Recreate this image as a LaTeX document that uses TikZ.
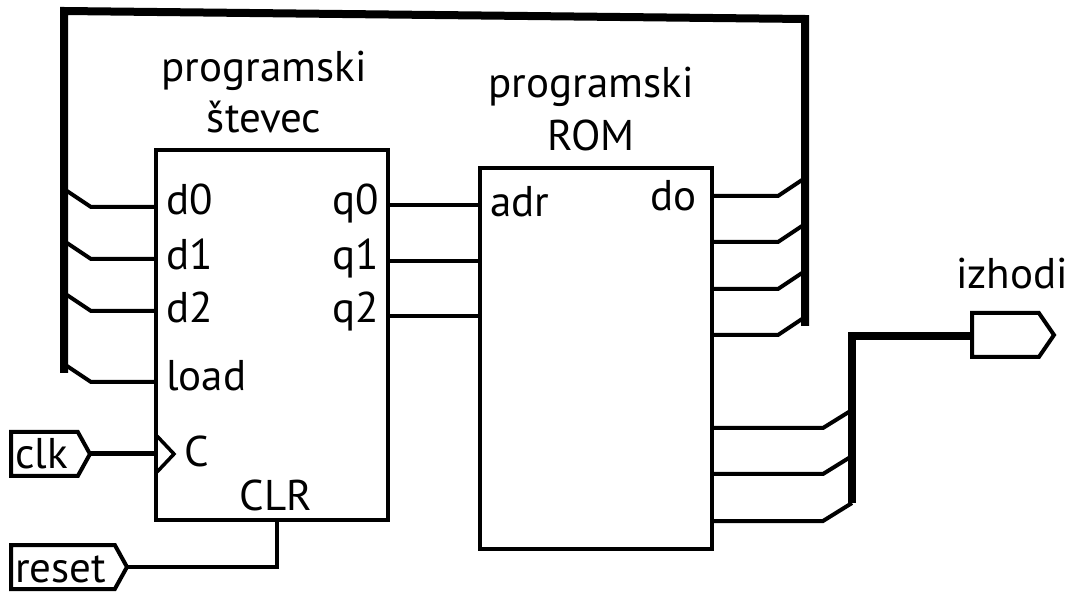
\documentclass[tikz,border=0pt]{standalone}
\usepackage{fontspec}
\setmainfont{PT Sans}
\usetikzlibrary{shapes.symbols}
\tikzset{
  wire/.style={line width=4pt,line join=miter},
  bus/.style={line width=8pt,line join=miter},
  blok/.style={draw,line width=4pt,rectangle,inner sep=0pt,outer sep=0pt},
  pinnode/.style={draw,line width=4pt,shape=signal,signal to=east,inner sep=0pt,outer sep=0pt,signal pointer angle=122,minimum height=44pt},
  oznaka/.style={font=\fontsize{43}{50}\selectfont,inner sep=0pt},
}
\begin{document}
\begin{tikzpicture}[x=1pt,y=-1pt]
\useasboundingbox (0,0) rectangle (1066,593);

% Bloki
\node[blok,minimum width=232pt,minimum height=370pt] (stevec) at (272,335) {};
\node[blok,minimum width=232pt,minimum height=381pt] (rom) at (596,358.5) {};

% Vodila
\coordinate (BusLT) at (64,11);
\coordinate (BusLB) at (64,373);
\coordinate (BusRT) at (805,19);
\coordinate (BusRB) at (805,326);
\coordinate (IzBusT) at (852,336);
\coordinate (IzBusB) at (852,503);
\draw[bus] (BusLB) -- (BusLT) -- (BusRT) -- (BusRB);

% Vhodi stevca
\foreach \y in {207, 259, 311, 382} {
    \draw[wire] (stevec.west |- 0,\y) -- (91,\y) -- (64,\y-18);
}
\node[oznaka,anchor=base west] (labd0) at (166,215) {d0};
\node[oznaka,anchor=base west] (labd1) at (166,270) {d1};
\node[oznaka,anchor=base west] (labd2) at (166,323) {d2};
\node[oznaka,anchor=base west] (labload) at (166,391) {load};

% Povezave stevec - ROM
\foreach \y in {205, 261, 316} {
    \draw[wire] (stevec.east |- 0,\y) -- (rom.west |- 0,\y);
}
\node[oznaka,anchor=base east] (labq0) at (379,215) {q0};
\node[oznaka,anchor=base east] (labq1) at (379,270) {q1};
\node[oznaka,anchor=base east] (labq2) at (379,323) {q2};

% Izhodi ROM
\foreach \y in {196, 242, 289, 335} {
    \draw[wire] (rom.east |- 0,\y) -- (778,\y) -- (805,\y-18);
}
\foreach \y in {428, 474, 521} {
    \draw[wire] (rom.east |- 0,\y) -- (823,\y) -- (852,\y-18);
}
\draw[bus] (IzBusB) -- (IzBusT) -- (972,336);

% Prikljucki
\node[pinnode,minimum width=79pt,anchor=west] (clk) at (11,454) {};
\node[pinnode,minimum width=116pt,anchor=west] (reset) at (11,567) {};
\node[pinnode,minimum width=82pt,signal pointer angle=111,anchor=west] (izhod) at (972,335) {};
\node[oznaka,anchor=base west] (labclk) at (15,468) {clk};
\node[oznaka,anchor=base west] (labreset) at (15,582) {reset};
\node[oznaka,anchor=base] (labizhodi) at (1012,289) {izhodi};

\draw[line width=5pt] (clk.east) -- (stevec.west |- clk.east);
\draw[wire] (reset.east) -- (277,567) -- (stevec.south -| 277,0);

% Urin vhod
\draw[line width=3.5pt] (157,436) -- (174,454) -- (157,472);

% Napisi
\node[oznaka,anchor=base] (labprog1) at (264,82) {programski};
\node[oznaka,anchor=base] (labprog2) at (264,133) {števec};
\node[oznaka,anchor=base] (labprog3) at (591,98) {programski};
\node[oznaka,anchor=base] (labrom) at (591,151) {ROM};
\node[oznaka,anchor=base west] (labadr) at (490,217) {adr};
\node[oznaka,anchor=base east] (labdo) at (697,211) {do};
\node[oznaka,anchor=base west] (labc) at (184,467) {C};
\node[oznaka,anchor=base] (labclr) at (276,511) {CLR};

\end{tikzpicture}
\end{document}
